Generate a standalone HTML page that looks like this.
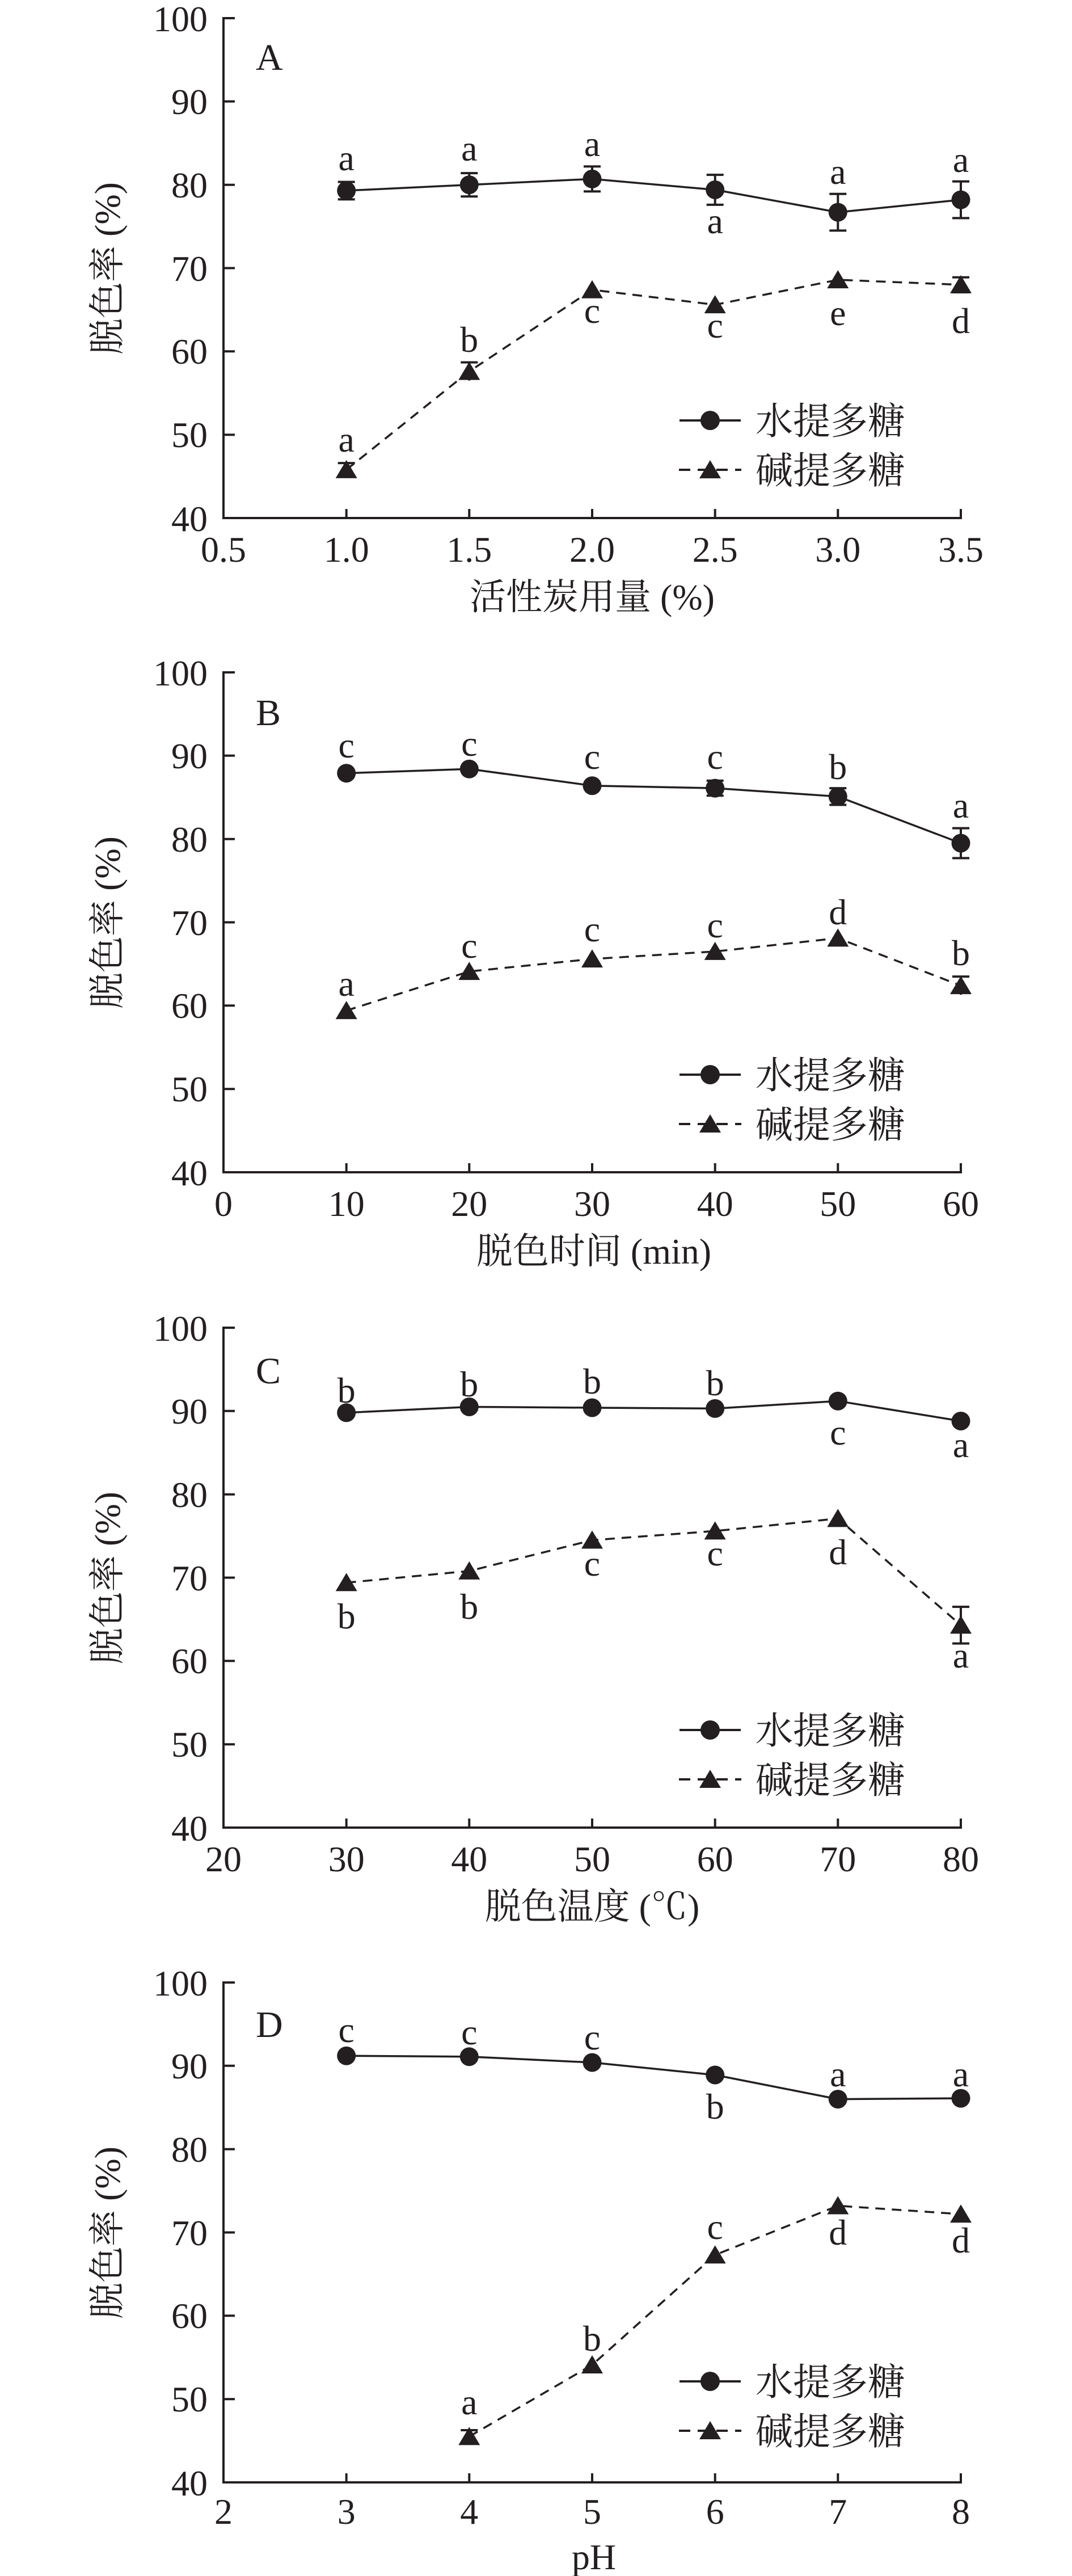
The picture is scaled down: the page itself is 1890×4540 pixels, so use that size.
<!DOCTYPE html>
<html><head><meta charset="utf-8"><style>
html,body{margin:0;padding:0;background:#fff;}
svg{display:block;}
.ax{fill:none;stroke:#231f20;stroke-width:4;}
.ln{fill:none;stroke:#231f20;stroke-width:3.5;}
.dl{fill:none;stroke:#231f20;stroke-width:3.5;stroke-dasharray:17 12;}
.eb{fill:none;stroke:#231f20;stroke-width:4;}
.mk{fill:#231f20;}
.t{font-family:"Liberation Serif","Noto Serif CJK SC",serif;font-size:64px;fill:#231f20;}
.yl{text-anchor:end;}
.xl{text-anchor:middle;}
.lt{text-anchor:middle;}
.cj{font-family:"Liberation Serif","Noto Serif CJK SC",serif;font-size:64px;fill:#231f20;}
.lg{font-family:"Liberation Serif","Noto Serif CJK SC",serif;font-size:66px;fill:#231f20;}
.pl{font-family:"Liberation Serif",serif;font-size:66px;fill:#231f20;}
</style></head><body>
<svg width="1890" height="4540" viewBox="0 0 1890 4540" xmlns="http://www.w3.org/2000/svg">
<rect width="1890" height="4540" fill="#fff"/>

<!-- ================= PANEL A ================= -->
<g transform="translate(0,0)">
<path class="ax" d="M394,30V913H1696"/>
<path class="ax" d="M394,32H414M394,178.8H414M394,325.7H414M394,472.5H414M394,619.3H414M394,766.2H414M610.7,913V897M827.3,913V897M1044,913V897M1260.7,913V897M1477.3,913V897M1694,915V897"/>
<g class="t yl"><text x="366" y="55">100</text><text x="366" y="201">90</text><text x="366" y="348">80</text><text x="366" y="495">70</text><text x="366" y="641">60</text><text x="366" y="788">50</text><text x="366" y="936">40</text></g>
<g class="t xl"><text x="394" y="990">0.5</text><text x="610.7" y="990">1.0</text><text x="827.3" y="990">1.5</text><text x="1044" y="990">2.0</text><text x="1260.7" y="990">2.5</text><text x="1477.3" y="990">3.0</text><text x="1694" y="990">3.5</text></g>
<text class="cj" x="1044" y="1074" text-anchor="middle">活性炭用量 (%)</text>
<text class="cj" transform="translate(211,473) rotate(-90)" text-anchor="middle">脱色率 (%)</text>
<text class="pl" x="451" y="123">A</text>
<polyline class="ln" points="610.7,336 827.3,325.7 1044,315.4 1260.7,334.5 1477.3,374.1 1694,352.1"/>
<polyline class="dl" points="610.7,827.8 827.3,654.6 1044,510.7 1260.7,537.1 1477.3,493.1 1694,501.9"/>
<path class="eb" d="M610.7,320.6V351.4M595.7,320.6H625.7M595.7,351.4H625.7M827.3,305.1V346.3M812.3,305.1H842.3M812.3,346.3H842.3M1044,293.4V337.4M1029,293.4H1059M1029,337.4H1059M1260.7,308.1V360.9M1245.7,308.1H1275.7M1245.7,360.9H1275.7M1477.3,341.8V406.4M1462.3,341.8H1492.3M1462.3,406.4H1492.3M1694,319.8V384.4M1679,319.8H1709M1679,384.4H1709M610.7,816.1V839.5M595.7,816.1H625.7M827.3,638.6V670.6M812.3,638.6H842.3M1694,488.7V515.1M1679,488.7H1709M1679,515.1H1709"/>
<g class="mk"><circle cx="610.7" cy="336" r="16.5"/><circle cx="827.3" cy="325.7" r="16.5"/><circle cx="1044" cy="315.4" r="16.5"/><circle cx="1260.7" cy="334.5" r="16.5"/><circle cx="1477.3" cy="374.1" r="16.5"/><circle cx="1694" cy="352.1" r="16.5"/>
<polygon points="610.7,810.8 591.7,842.8 629.7,842.8"/><polygon points="827.3,637.6 808.3,669.6 846.3,669.6"/><polygon points="1044,493.7 1025,525.7 1063,525.7"/><polygon points="1260.7,520.1 1241.7,552.1 1279.7,552.1"/><polygon points="1477.3,476.1 1458.3,508.1 1496.3,508.1"/><polygon points="1694,484.9 1675,516.9 1713,516.9"/></g>
<g class="t lt"><text x="610.7" y="300">a</text><text x="827.3" y="283">a</text><text x="1044" y="275">a</text><text x="1260.7" y="411">a</text><text x="1477.3" y="324">a</text><text x="1694" y="303">a</text>
<text x="610.7" y="796">a</text><text x="827.3" y="620">b</text><text x="1044" y="569">c</text><text x="1260.7" y="595">c</text><text x="1477.3" y="573">e</text><text x="1694" y="587">d</text></g>
<path class="ax" d="M1198,741H1306"/><circle class="mk" cx="1252" cy="741" r="17"/>
<path class="ax" style="stroke-dasharray:20 13" d="M1197,828H1307"/><polygon class="mk" points="1252,811 1233,843 1271,843"/>
<text class="lg" x="1332" y="765">水提多糖</text><text class="lg" x="1332" y="852">碱提多糖</text>
</g>

<!-- ================= PANEL B ================= -->
<g transform="translate(0,1153)">
<path class="ax" d="M394,30V913H1696"/>
<path class="ax" d="M394,32H414M394,178.8H414M394,325.7H414M394,472.5H414M394,619.3H414M394,766.2H414M610.7,913V897M827.3,913V897M1044,913V897M1260.7,913V897M1477.3,913V897M1694,915V897"/>
<g class="t yl"><text x="366" y="55">100</text><text x="366" y="201">90</text><text x="366" y="348">80</text><text x="366" y="495">70</text><text x="366" y="641">60</text><text x="366" y="788">50</text><text x="366" y="936">40</text></g>
<g class="t xl"><text x="394" y="990">0</text><text x="610.7" y="990">10</text><text x="827.3" y="990">20</text><text x="1044" y="990">30</text><text x="1260.7" y="990">40</text><text x="1477.3" y="990">50</text><text x="1694" y="990">60</text></g>
<text class="cj" x="1047" y="1074" text-anchor="middle">脱色时间 (min)</text>
<text class="cj" transform="translate(211,473) rotate(-90)" text-anchor="middle">脱色率 (%)</text>
<text class="pl" x="451" y="125">B</text>
<polyline class="ln" points="610.7,209.7 827.3,202.3 1044,231.7 1260.7,236.1 1477.3,250.8 1694,333"/>
<polyline class="dl" points="610.7,628.1 827.3,559.1 1044,537.1 1260.7,523.9 1477.3,500.4 1694,584.1"/>
<path class="eb" d="M1260.7,222.9V249.3M1245.7,222.9H1275.7M1245.7,249.3H1275.7M1477.3,236.1V265.5M1462.3,236.1H1492.3M1462.3,265.5H1492.3M1694,306.6V359.4M1679,306.6H1709M1679,359.4H1709M1694,568.1V600.1M1679,568.1H1709"/>
<g class="mk"><circle cx="610.7" cy="209.7" r="16.5"/><circle cx="827.3" cy="202.3" r="16.5"/><circle cx="1044" cy="231.7" r="16.5"/><circle cx="1260.7" cy="236.1" r="16.5"/><circle cx="1477.3" cy="250.8" r="16.5"/><circle cx="1694" cy="333" r="16.5"/>
<polygon points="610.7,611.1 591.7,643.1 629.7,643.1"/><polygon points="827.3,542.1 808.3,574.1 846.3,574.1"/><polygon points="1044,520.1 1025,552.1 1063,552.1"/><polygon points="1260.7,506.9 1241.7,538.9 1279.7,538.9"/><polygon points="1477.3,483.4 1458.3,515.4 1496.3,515.4"/><polygon points="1694,567.1 1675,599.1 1713,599.1"/></g>
<g class="t lt"><text x="610.7" y="182">c</text><text x="827.3" y="179">c</text><text x="1044" y="202">c</text><text x="1260.7" y="202">c</text><text x="1477.3" y="220">b</text><text x="1694" y="288">a</text>
<text x="610.7" y="602">a</text><text x="827.3" y="535">c</text><text x="1044" y="506">c</text><text x="1260.7" y="499">c</text><text x="1477.3" y="476">d</text><text x="1694" y="548">b</text></g>
<path class="ax" d="M1198,741H1306"/><circle class="mk" cx="1252" cy="741" r="17"/>
<path class="ax" style="stroke-dasharray:20 13" d="M1197,828H1307"/><polygon class="mk" points="1252,811 1233,843 1271,843"/>
<text class="lg" x="1332" y="765">水提多糖</text><text class="lg" x="1332" y="852">碱提多糖</text>
</g>

<!-- ================= PANEL C ================= -->
<g transform="translate(0,2308)">
<path class="ax" d="M394,30V913H1696"/>
<path class="ax" d="M394,32H414M394,178.8H414M394,325.7H414M394,472.5H414M394,619.3H414M394,766.2H414M610.7,913V897M827.3,913V897M1044,913V897M1260.7,913V897M1477.3,913V897M1694,915V897"/>
<g class="t yl"><text x="366" y="55">100</text><text x="366" y="201">90</text><text x="366" y="348">80</text><text x="366" y="495">70</text><text x="366" y="641">60</text><text x="366" y="788">50</text><text x="366" y="936">40</text></g>
<g class="t xl"><text x="394" y="990">20</text><text x="610.7" y="990">30</text><text x="827.3" y="990">40</text><text x="1044" y="990">50</text><text x="1260.7" y="990">60</text><text x="1477.3" y="990">70</text><text x="1694" y="990">80</text></g>
<text class="cj" x="1044" y="1074" text-anchor="middle">脱色温度 (℃)</text>
<text class="cj" transform="translate(211,473) rotate(-90)" text-anchor="middle">脱色率 (%)</text>
<text class="pl" x="451" y="130">C</text>
<polyline class="ln" points="610.7,181.8 827.3,171.5 1044,173 1260.7,174.4 1477.3,161.2 1694,196.5"/>
<polyline class="dl" points="610.7,481.3 827.3,460.8 1044,406.4 1260.7,390.3 1477.3,368.3 1694,556.2"/>
<path class="eb" d="M1694,523.9V588.5M1679,523.9H1709M1679,588.5H1709"/>
<g class="mk"><circle cx="610.7" cy="181.8" r="16.5"/><circle cx="827.3" cy="171.5" r="16.5"/><circle cx="1044" cy="173" r="16.5"/><circle cx="1260.7" cy="174.4" r="16.5"/><circle cx="1477.3" cy="161.2" r="16.5"/><circle cx="1694" cy="196.5" r="16.5"/>
<polygon points="610.7,464.3 591.7,496.3 629.7,496.3"/><polygon points="827.3,443.8 808.3,475.8 846.3,475.8"/><polygon points="1044,389.4 1025,421.4 1063,421.4"/><polygon points="1260.7,373.3 1241.7,405.3 1279.7,405.3"/><polygon points="1477.3,351.3 1458.3,383.3 1496.3,383.3"/><polygon points="1694,539.2 1675,571.2 1713,571.2"/></g>
<g class="t lt"><text x="610.7" y="164">b</text><text x="827.3" y="153">b</text><text x="1044" y="148">b</text><text x="1260.7" y="151">b</text><text x="1477.3" y="238">c</text><text x="1694" y="260">a</text>
<text x="610.7" y="562">b</text><text x="827.3" y="545">b</text><text x="1044" y="469">c</text><text x="1260.7" y="451">c</text><text x="1477.3" y="449">d</text><text x="1694" y="631">a</text></g>
<path class="ax" d="M1198,741H1306"/><circle class="mk" cx="1252" cy="741" r="17"/>
<path class="ax" style="stroke-dasharray:20 13" d="M1197,828H1307"/><polygon class="mk" points="1252,811 1233,843 1271,843"/>
<text class="lg" x="1332" y="765">水提多糖</text><text class="lg" x="1332" y="852">碱提多糖</text>
</g>

<!-- ================= PANEL D ================= -->
<g transform="translate(0,3462)">
<path class="ax" d="M394,30V913H1696"/>
<path class="ax" d="M394,32H414M394,178.8H414M394,325.7H414M394,472.5H414M394,619.3H414M394,766.2H414M610.7,913V897M827.3,913V897M1044,913V897M1260.7,913V897M1477.3,913V897M1694,915V897"/>
<g class="t yl"><text x="366" y="55">100</text><text x="366" y="201">90</text><text x="366" y="348">80</text><text x="366" y="495">70</text><text x="366" y="641">60</text><text x="366" y="788">50</text><text x="366" y="936">40</text></g>
<g class="t xl"><text x="394" y="986">2</text><text x="610.7" y="986">3</text><text x="827.3" y="986">4</text><text x="1044" y="986">5</text><text x="1260.7" y="986">6</text><text x="1477.3" y="986">7</text><text x="1694" y="986">8</text></g>
<text class="cj" x="1047" y="1066" text-anchor="middle">pH</text>
<text class="cj" transform="translate(211,473) rotate(-90)" text-anchor="middle">脱色率 (%)</text>
<text class="pl" x="451" y="128">D</text>
<polyline class="ln" points="610.7,161.2 827.3,162.7 1044,173 1260.7,195 1477.3,237.6 1694,236.1"/>
<polyline class="dl" points="827.3,832.2 1044,706 1260.7,512.2 1477.3,425.5 1694,440.2"/>
<path class="eb" d="M827.3,821V843.4M812.3,821H842.3"/>
<g class="mk"><circle cx="610.7" cy="161.2" r="16.5"/><circle cx="827.3" cy="162.7" r="16.5"/><circle cx="1044" cy="173" r="16.5"/><circle cx="1260.7" cy="195" r="16.5"/><circle cx="1477.3" cy="237.6" r="16.5"/><circle cx="1694" cy="236.1" r="16.5"/>
<polygon points="827.3,815.2 808.3,847.2 846.3,847.2"/><polygon points="1044,689 1025,721 1063,721"/><polygon points="1260.7,495.2 1241.7,527.2 1279.7,527.2"/><polygon points="1477.3,408.5 1458.3,440.5 1496.3,440.5"/><polygon points="1694,423.2 1675,455.2 1713,455.2"/></g>
<g class="t lt"><text x="610.7" y="137">c</text><text x="827.3" y="141">c</text><text x="1044" y="150">c</text><text x="1260.7" y="272">b</text><text x="1477.3" y="215">a</text><text x="1694" y="215">a</text>
<text x="827.3" y="793">a</text><text x="1044" y="681">b</text><text x="1260.7" y="484">c</text><text x="1477.3" y="494">d</text><text x="1694" y="508">d</text></g>
<path class="ax" d="M1198,735H1306"/><circle class="mk" cx="1252" cy="735" r="17"/>
<path class="ax" style="stroke-dasharray:20 13" d="M1197,822H1307"/><polygon class="mk" points="1252,805 1233,837 1271,837"/>
<text class="lg" x="1332" y="759">水提多糖</text><text class="lg" x="1332" y="846">碱提多糖</text>
</g>
</svg>
</body></html>
